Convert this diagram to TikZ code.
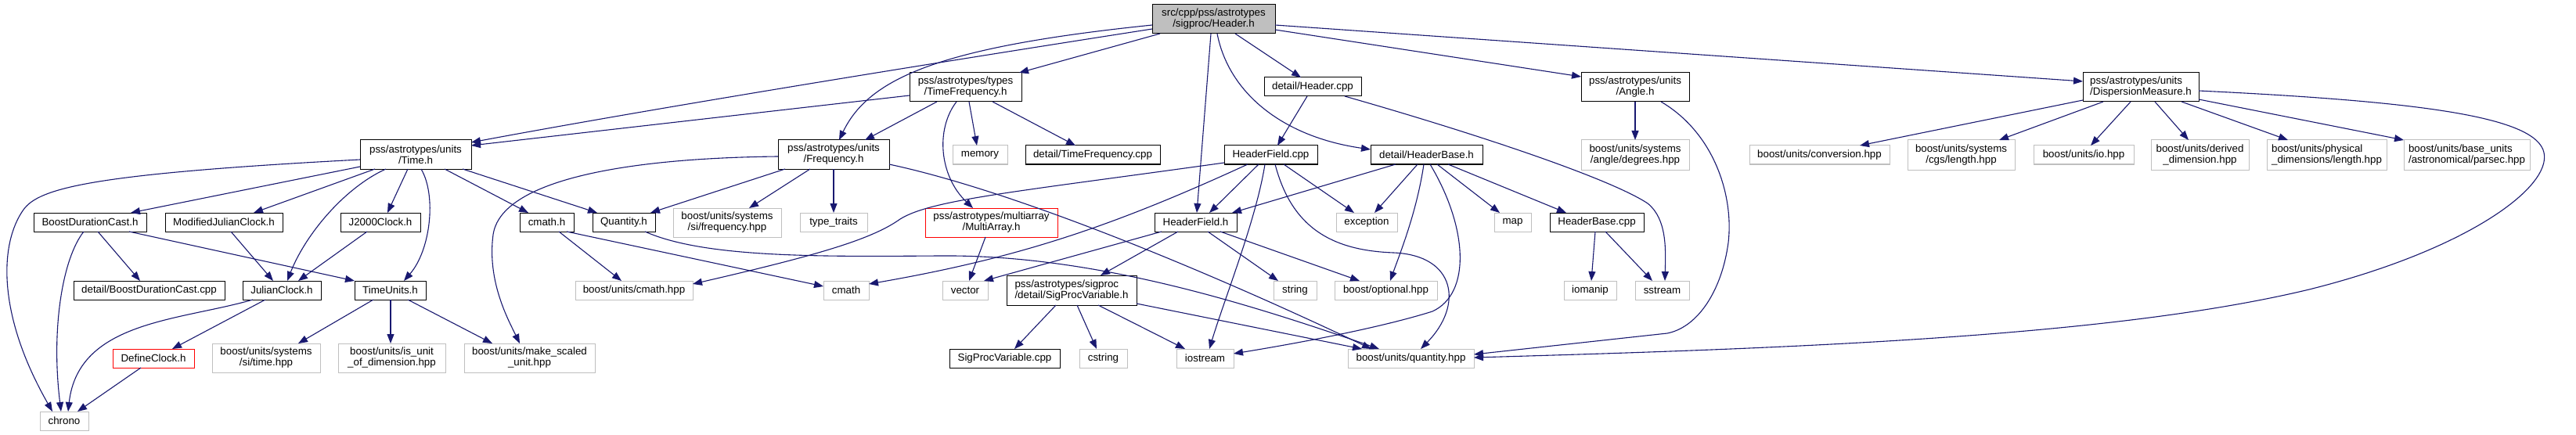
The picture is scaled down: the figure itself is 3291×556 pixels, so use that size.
\documentclass[tikz,border=0pt]{standalone}
\usepackage{fontspec}
\setmainfont{Liberation Sans}
\usetikzlibrary{arrows.meta}
\definecolor{edgeblue}{HTML}{191970}
\definecolor{extgray}{HTML}{BFBFBF}
\definecolor{rootgray}{HTML}{BFBFBF}
\definecolor{truncred}{HTML}{FF0000}
\tikzset{
  box/.style={rectangle, inner sep=0pt, outer sep=0pt, align=center, line width=1pt,
              font=\fontsize{13.33}{14}\selectfont, text=black},
  doc/.style={box, draw=black, fill=white},
  ext/.style={box, draw=extgray, fill=white},
  trunc/.style={box, draw=truncred, fill=white},
  root/.style={box, draw=black, fill=rootgray},
  dep/.style={draw=edgeblue, line width=1.1pt, -{Triangle[length=12pt,width=9pt]}}
}
\newcommand\nd[7]{\node[#1,minimum width={(#5-#3)*1pt},minimum height={(#6-#4)*1pt}] (#2) at ({(#3+#5)/2},{(#4+#6)/2}) {#7};}
\begin{document}
\begin{tikzpicture}[x=1pt,y=-1pt]
\fill[white] (0,0) rectangle (3291,556);
\useasboundingbox (0,0) rectangle (3291,556);
% ---- nodes
\nd{root}{hdr}{1472}{6}{1629}{43}{src/cpp/pss/astrotypes\\/sigproc/Header.h}
\nd{doc}{time}{460}{179}{602}{216}{pss/astrotypes/units\\/Time.h}
\nd{doc}{tf}{1162}{93}{1305}{130}{pss/astrotypes/types\\/TimeFrequency.h}
\nd{doc}{freq}{994}{179}{1136}{216}{pss/astrotypes/units\\/Frequency.h}
\nd{doc}{hcpp}{1615}{99}{1739}{123}{detail/Header.cpp}
\nd{doc}{hfcpp}{1564}{186}{1683}{210}{HeaderField.cpp}
\nd{doc}{hbase}{1751}{186}{1894}{210}{detail/HeaderBase.h}
\nd{doc}{angle}{2020}{93}{2158}{130}{pss/astrotypes/units\\/Angle.h}
\nd{doc,align=left}{disp}{2661}{93}{2809}{130}{pss/astrotypes/units\\/DispersionMeasure.h}
\nd{ext}{memory}{1217}{186}{1287}{210}{memory}
\nd{doc}{tfcpp}{1310}{186}{1482}{210}{detail/TimeFrequency.cpp}
\nd{ext}{degrees}{2020}{179}{2158}{217}{boost/units/systems\\/angle/degrees.hpp}
\nd{ext}{conv}{2235}{186}{2414}{210}{boost/units/conversion.hpp}
\nd{ext}{cgs}{2437}{179}{2574}{217}{boost/units/systems\\/cgs/length.hpp}
\nd{ext}{io}{2598}{186}{2726}{210}{boost/units/io.hpp}
\nd{ext}{derdim}{2748}{179}{2873}{217}{boost/units/derived\\\_dimension.hpp}
\nd{ext,align=left}{physlen}{2896}{179}{3049}{217}{boost/units/physical\\\_dimensions/length.hpp}
\nd{ext,align=left}{parsec}{3071}{179}{3232}{217}{boost/units/base\_units\\/astronomical/parsec.hpp}
\nd{doc}{bdc}{43}{272}{187}{296}{BoostDurationCast.h}
\nd{doc}{mjc}{211}{272}{361}{296}{ModifiedJulianClock.h}
\nd{doc}{j2k}{435}{272}{537}{296}{J2000Clock.h}
\nd{doc}{cmathh}{664}{272}{733}{296}{cmath.h}
\nd{doc}{qty}{757}{272}{837}{296}{Quantity.h}
\nd{ext}{sifreq}{860}{266}{998}{303}{boost/units/systems\\/si/frequency.hpp}
\nd{ext}{tt}{1022}{272}{1108}{296}{type\_traits}
\nd{trunc}{multi}{1182}{266}{1351}{303}{pss/astrotypes/multiarray\\/MultiArray.h}
\nd{doc}{hf}{1475}{272}{1580}{296}{HeaderField.h}
\nd{ext}{exc}{1707}{272}{1785}{296}{exception}
\nd{ext}{map}{1909}{272}{1956}{296}{map}
\nd{doc}{hbcpp}{1980}{272}{2100}{296}{HeaderBase.cpp}
\nd{doc}{bdccpp}{94}{359}{287}{383}{detail/BoostDurationCast.cpp}
\nd{doc}{jc}{310}{359}{410}{383}{JulianClock.h}
\nd{doc}{tu}{453}{359}{544}{383}{TimeUnits.h}
\nd{ext}{bcmath}{735}{359}{885}{383}{boost/units/cmath.hpp}
\nd{ext}{cmath}{1052}{359}{1110}{383}{cmath}
\nd{ext}{vector}{1204}{359}{1262}{383}{vector}
\nd{doc,align=left}{spv}{1286}{352}{1452}{390}{pss/astrotypes/sigproc\\/detail/SigProcVariable.h}
\nd{ext}{string}{1627}{359}{1682}{383}{string}
\nd{ext}{opt}{1705}{359}{1836}{383}{boost/optional.hpp}
\nd{ext}{iomanip}{1998}{359}{2065}{383}{iomanip}
\nd{ext}{sstream}{2089}{359}{2158}{383}{sstream}
\nd{trunc}{defclk}{144}{446}{248}{470}{DefineClock.h}
\nd{ext}{sitime}{271}{439}{409}{476}{boost/units/systems\\/si/time.hpp}
\nd{ext}{isunit}{432}{439}{569}{476}{boost/units/is\_unit\\\_of\_dimension.hpp}
\nd{ext}{mscaled}{593}{439}{760}{476}{boost/units/make\_scaled\\\_unit.hpp}
\nd{doc}{spvcpp}{1213}{446}{1354}{470}{SigProcVariable.cpp}
\nd{ext}{cstring}{1379}{446}{1440}{470}{cstring}
\nd{ext}{iostream}{1503}{446}{1576}{470}{iostream}
\nd{ext}{quantity}{1722}{446}{1883}{470}{boost/units/quantity.hpp}
\nd{ext}{chrono}{51}{526}{113}{550}{chrono}
% ---- edges: Header.h
\draw[dep] (hdr.west |- 0,37) .. controls (1100,95) and (800,145) .. (time.east |- 0,182);
\draw[dep] (hdr.west |- 0,32) .. controls (1200,60) and (1110,100) .. (freq.north -| 1072,0);
\draw[dep] (hdr.south -| 1482,0) -- (tf.north -| 1302,0);
\draw[dep] (hdr.south -| 1547,0) -- (hf.north -| 1529,0);
\draw[dep] (hdr.south -| 1555,0) .. controls (1570,120) and (1640,175) .. (hbase.west |- 0,191);
\draw[dep] (hdr.south -| 1578,0) -- (hcpp.north -| 1662,0);
\draw[dep] (hdr.east |- 0,38) -- (angle.west |- 0,98);
\draw[dep] (hdr.east |- 0,32) -- (disp.west |- 0,104);
% TimeFrequency.h
\draw[dep] (tf.west |- 0,122) -- (time.east |- 0,186);
\draw[dep] (tf.south -| 1197,0) -- (freq.north -| 1105,0);
\draw[dep] (tf.south -| 1222,0) .. controls (1195,165) and (1200,225) .. (multi.north -| 1243,0);
\draw[dep] (tf.south -| 1238,0) -- (memory.north -| 1248,0);
\draw[dep] (tf.south -| 1268,0) -- (tfcpp.north -| 1374,0);
% Frequency.h
\draw[dep] (freq.south -| 1003,0) -- (qty.north -| 831,0);
\draw[dep] (freq.south -| 1035,0) -- (sifreq.north -| 957,0);
\draw[dep] (freq.south -| 1065,0) -- (tt.north -| 1065,0);
\draw[dep] (freq.west |- 0,200) .. controls (800,202) and (640,230) .. (630,300) .. controls (622,360) and (650,410) .. (mscaled.north -| 664,0);
\draw[dep] (freq.east |- 0,210) .. controls (1300,245) and (1550,350) .. (quantity.north -| 1752,0);
% Time.h
\draw[dep] (time.west |- 0,204) .. controls (120,222) and (50,240) .. (30,268) .. controls (0,310) and (-5,400) .. (chrono.north -| 67,0);
\draw[dep] (time.west |- 0,213) -- (bdc.north -| 167,0);
\draw[dep] (time.south -| 479,0) -- (mjc.north -| 324,0);
\draw[dep] (time.south -| 493,0) .. controls (440,240) and (390,300) .. (jc.north -| 367,0);
\draw[dep] (time.south -| 521,0) -- (j2k.north -| 495,0);
\draw[dep] (time.south -| 538,0) .. controls (558,250) and (550,320) .. (tu.north -| 516,0);
\draw[dep] (time.south -| 568,0) -- (cmathh.north -| 675,0);
\draw[dep] (time.south -| 591,0) -- (qty.north -| 763,0);
% BoostDurationCast.h
\draw[dep] (bdc.south -| 107,0) .. controls (80,330) and (65,420) .. (chrono.north -| 78,0);
\draw[dep] (bdc.south -| 125,0) -- (bdccpp.north -| 179,0);
\draw[dep] (bdc.south -| 165,0) -- (tu.north west);
% clocks
\draw[dep] (mjc.south -| 295,0) -- (jc.north -| 349,0);
\draw[dep] (j2k.south -| 469,0) -- (jc.north -| 381,0);
\draw[dep] (jc.south -| 323,0) .. controls (230,410) and (100,410) .. (chrono.north -| 87,0);
\draw[dep] (jc.south -| 339,0) -- (defclk.north -| 220,0);
\draw[dep] (defclk.south -| 180,0) -- (chrono.north -| 99,0);
% TimeUnits.h
\draw[dep] (tu.south -| 477,0) -- (sitime.north -| 381,0);
\draw[dep] (tu.south -| 499,0) -- (isunit.north -| 499,0);
\draw[dep] (tu.south -| 521,0) -- (mscaled.north -| 629,0);
% cmath.h, Quantity.h
\draw[dep] (cmathh.south -| 714,0) -- (bcmath.north -| 794,0);
\draw[dep] (cmathh.south -| 724,0) -- (cmath.west |- 0,366);
\draw[dep] (qty.south -| 824,0) .. controls (900,330) and (1050,328) .. (1200,327) .. controls (1400,325) and (1600,390) .. (quantity.north -| 1762,0);
% SigProcVariable.h, MultiArray.h
\draw[dep] (spv.south -| 1349,0) -- (spvcpp.north -| 1296,0);
\draw[dep] (spv.south -| 1376,0) -- (cstring.north -| 1401,0);
\draw[dep] (spv.south -| 1403,0) -- (iostream.north -| 1514,0);
\draw[dep] (spv.east |- 0,388) -- (quantity.north -| 1740,0);
\draw[dep] (multi.south -| 1259,0) -- (vector.north -| 1238,0);
% HeaderField.cpp
\draw[dep] (hfcpp.west |- 0,208) .. controls (1300,245) and (1190,255) .. (1150,280) .. controls (1115,305) and (1050,325) .. (bcmath.east |- 0,363);
\draw[dep] (hfcpp.south -| 1594,0) .. controls (1420,290) and (1300,330) .. (cmath.east |- 0,363);
\draw[dep] (hfcpp.south -| 1608,0) -- (hf.north -| 1545,0);
\draw[dep] (hfcpp.south -| 1616,0) .. controls (1605,280) and (1565,380) .. (iostream.north -| 1545,0);
\draw[dep] (hfcpp.south -| 1640,0) -- (exc.north -| 1730,0);
\draw[dep] (hfcpp.south -| 1629,0) .. controls (1650,290) and (1700,320) .. (1780,323) .. controls (1860,326) and (1870,390) .. (quantity.north -| 1815,0);
% HeaderField.h
\draw[dep] (hf.south -| 1484,0) -- (vector.north -| 1257,0);
\draw[dep] (hf.south -| 1505,0) -- (spv.north -| 1406,0);
\draw[dep] (hf.south -| 1543,0) -- (string.north -| 1633,0);
\draw[dep] (hf.south -| 1559,0) -- (opt.north -| 1737,0);
% HeaderBase.h
\draw[dep] (hbase.south -| 1783,0) -- (hf.north -| 1574,0);
\draw[dep] (hbase.south -| 1811,0) -- (exc.north -| 1756,0);
\draw[dep] (hbase.south -| 1819,0) .. controls (1810,270) and (1790,320) .. (opt.north -| 1776,0);
\draw[dep] (hbase.south -| 1827,0) .. controls (1875,290) and (1880,375) .. (1830,398) .. controls (1760,420) and (1650,440) .. (iostream.east |- 0,452);
\draw[dep] (hbase.south -| 1836,0) -- (map.north -| 1916,0);
\draw[dep] (hbase.south -| 1850,0) -- (hbcpp.north -| 2001,0);
% HeaderBase.cpp, Header.cpp
\draw[dep] (hbcpp.south -| 2038,0) -- (iomanip.north -| 2033,0);
\draw[dep] (hbcpp.south -| 2051,0) -- (sstream.north -| 2111,0);
\draw[dep] (hcpp.south -| 1670,0) -- (hfcpp.north -| 1632,0);
\draw[dep] (hcpp.south -| 1718,0) .. controls (1900,175) and (2060,230) .. (2105,260) .. controls (2130,280) and (2128,320) .. (sstream.north -| 2127,0);
% Angle.h
\draw[dep] (angle.south -| 2089,0) -- (degrees.north -| 2089,0);
\draw[dep] (angle.south -| 2122,0) .. controls (2190,170) and (2215,250) .. (2208,310) .. controls (2200,370) and (2170,418) .. (2130,426) -- (quantity.east |- 0,453);
% DispersionMeasure.h
\draw[dep] (disp.west |- 0,128) -- (conv.north -| 2376,0);
\draw[dep] (disp.south -| 2687,0) -- (cgs.north -| 2554,0);
\draw[dep] (disp.south -| 2722,0) -- (io.north -| 2671,0);
\draw[dep] (disp.south -| 2753,0) -- (derdim.north -| 2796,0);
\draw[dep] (disp.south -| 2787,0) -- (physlen.north -| 2923,0);
\draw[dep] (disp.east |- 0,127) -- (parsec.north west);
\draw[dep] (disp.east |- 0,116) .. controls (3100,130) and (3240,150) .. (3250,195) .. controls (3260,240) and (3150,320) .. (2950,370) .. controls (2700,430) and (2300,445) .. (quantity.east |- 0,457);
\end{tikzpicture}
\end{document}
